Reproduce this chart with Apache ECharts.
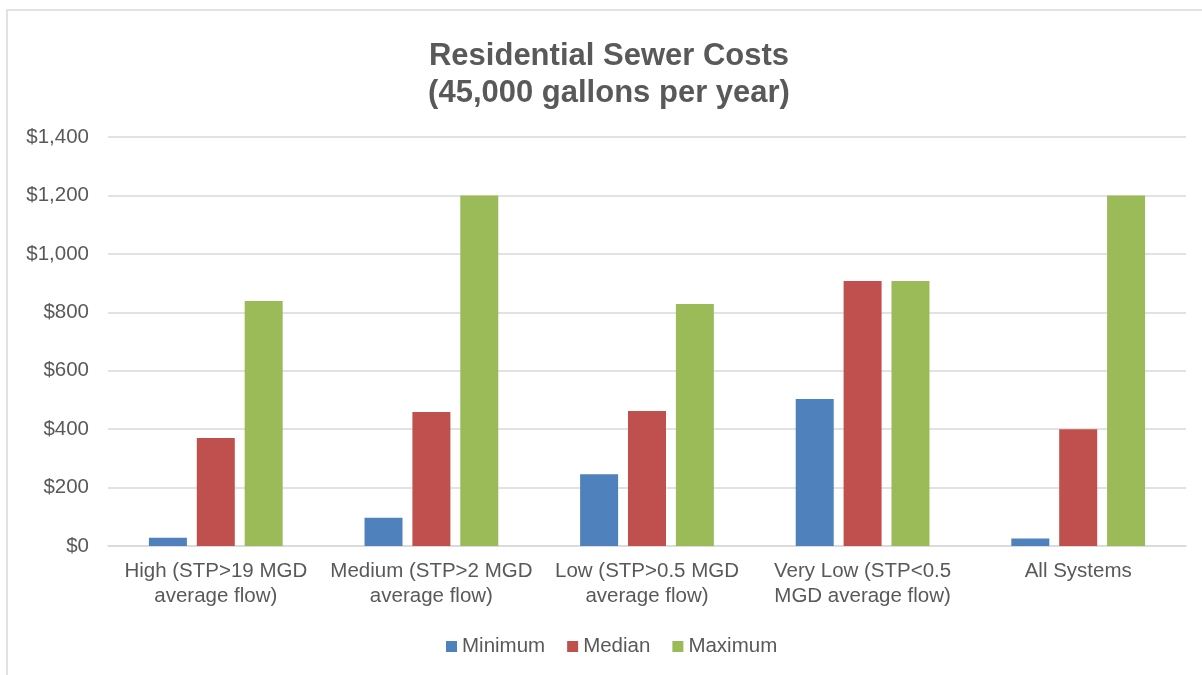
<!DOCTYPE html>
<html>
<head>
<meta charset="utf-8">
<script src="https://cdn.jsdelivr.net/npm/echarts@6/dist/echarts.min.js"></script>
<style>
html,body{margin:0;padding:0;background:#fff;}
#chart{width:1202px;height:675px;}
</style>
</head>
<body>
<div id="chart"></div>
<script>
var categories = [
  "High (STP>19 MGD\naverage flow)",
  "Medium (STP>2 MGD\naverage flow)",
  "Low (STP>0.5 MGD\naverage flow)",
  "Very Low (STP<0.5\nMGD average flow)",
  "All Systems"
];
var minimum = [28, 97, 246, 503, 26];
var median = [370, 459, 462, 907, 400];
var maximum = [839, 1200, 828, 907, 1200];
var seriesNames = ["Minimum", "Median", "Maximum"];
var colors = ["#4F81BD", "#C0504D", "#9BBB59"];

var font = "Liberation Sans, Arial, sans-serif";
var chart = echarts.init(document.getElementById('chart'), null, {renderer: 'canvas'});
chart.setOption({
  animation: false,
  backgroundColor: '#fff',
  color: colors,
  graphic: [{
    type: 'rect',
    shape: {x: 7, y: 10, width: 1200, height: 680},
    style: {fill: 'none', stroke: '#d9d9d9', lineWidth: 1.5},
    silent: true
  }],
  title: {
    text: 'Residential Sewer Costs\n(45,000 gallons per year)',
    left: 609,
    textAlign: 'center',
    top: 38,
    padding: 0,
    textStyle: {
      fontFamily: font, fontSize: 31, fontWeight: 'bold', color: '#595959', lineHeight: 37
    }
  },
  legend: {
    top: 631,
    left: 441,
    itemWidth: 11, itemHeight: 11, itemGap: 22,
    icon: 'rect',
    textStyle: {fontFamily: font, fontSize: 20.5, color: '#595959'},
    data: seriesNames
  },
  grid: {
    left: 108, right: 16, top: 137, bottom: 129,
    containLabel: false, outerBoundsMode: 'none'
  },
  xAxis: {
    type: 'category',
    data: categories,
    axisTick: {show: false},
    axisLine: {lineStyle: {color: '#d9d9d9', width: 1.5}},
    axisLabel: {
      fontFamily: font, fontSize: 20.5, color: '#595959', lineHeight: 25, margin: 13, interval: 0
    }
  },
  yAxis: {
    type: 'value',
    min: 0, max: 1400, interval: 200,
    axisLine: {show: false},
    axisTick: {show: false},
    splitLine: {lineStyle: {color: '#d9d9d9', width: 1.5}},
    axisLabel: {
      fontFamily: font, fontSize: 20.5, color: '#595959', margin: 19,
      formatter: function (v) { return '$' + v.toLocaleString('en-US'); }
    }
  },
  series: [
    {name: seriesNames[0], type: 'bar', data: minimum, barWidth: 38, barGap: '26%'},
    {name: seriesNames[1], type: 'bar', data: median, barWidth: 38, barGap: '26%'},
    {name: seriesNames[2], type: 'bar', data: maximum, barWidth: 38, barGap: '26%'}
  ]
});
</script>
</body>
</html>
